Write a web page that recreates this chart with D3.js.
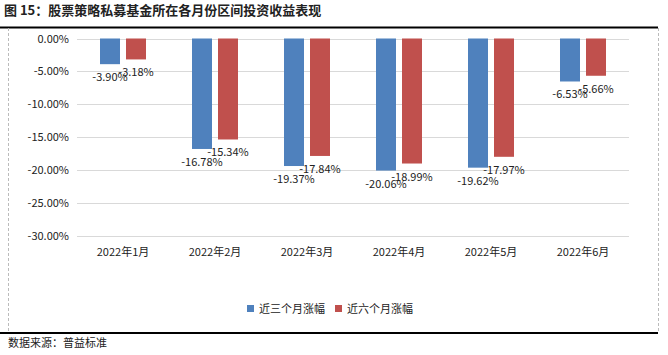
<!DOCTYPE html>
<html><head><meta charset="utf-8">
<script src="https://cdn.jsdelivr.net/npm/d3@7"></script>
<style>body{margin:0;background:#fff}svg{display:block}</style>
</head><body>
<svg id="c" width="668" height="355"></svg>
<script>
const months = ["2022年1月","2022年2月","2022年3月","2022年4月","2022年5月","2022年6月"];
const threeMonth = [-3.90,-16.78,-19.37,-20.06,-19.62,-6.53];
const sixMonth = [-3.18,-15.34,-17.84,-18.99,-17.97,-5.66];
const yTicks = [0,-5,-10,-15,-20,-25,-30];
const seriesNames = ["近三个月涨幅","近六个月涨幅"];
const colors = ["#4F81BD","#C0504D"];

const svg = d3.select("#c");
const font = "'Noto Sans CJK SC', sans-serif";

// title and frame
svg.append("text").attr("x",4).attr("y",15).attr("font-family",font).attr("font-size",13).attr("font-weight","bold").attr("fill","#222").text("图 15：股票策略私募基金所在各月份区间投资收益表现");
svg.append("line").attr("x1",0).attr("x2",658).attr("y1",27.5).attr("y2",27.5).attr("stroke","#000").attr("stroke-width",2);
svg.append("line").attr("x1",0).attr("x2",658).attr("y1",333).attr("y2",333).attr("stroke","#000").attr("stroke-width",2);
svg.append("line").attr("x1",8.5).attr("x2",8.5).attr("y1",28).attr("y2",332).attr("stroke","#bbb").attr("stroke-dasharray","3,2");
svg.append("line").attr("x1",658.5).attr("x2",658.5).attr("y1",28).attr("y2",332).attr("stroke","#bbb").attr("stroke-dasharray","3,2");
svg.append("text").attr("x",8).attr("y",347).attr("font-family",font).attr("font-size",11).attr("fill","#222").text("数据来源：普益标准");

const x = d3.scaleBand().domain(months).range([77,629]);
const y = d3.scaleLinear().domain([-30,0]).range([236,38.5]);

// grid
svg.append("g").selectAll("line").data(yTicks).join("line")
  .attr("x1",77).attr("x2",629).attr("y1",d=>Math.round(y(d))+0.5).attr("y2",d=>Math.round(y(d))+0.5)
  .attr("stroke","#d9d9d9");

const yAxis = d3.axisLeft(y).tickValues(yTicks).tickSize(0).tickPadding(0).tickFormat(d=>d3.format(".2f")(d).replace("−","-")+"%");
svg.append("g").attr("transform","translate(69,0)").call(yAxis)
  .call(g=>g.select(".domain").remove())
  .call(g=>g.selectAll("text").attr("font-family",font).attr("font-size",11).attr("fill","#222"));

const xAxis = d3.axisBottom(x).tickSize(0).tickPadding(8);
svg.append("g").attr("transform","translate(0,240)").call(xAxis)
  .call(g=>g.select(".domain").remove())
  .call(g=>g.selectAll("text").attr("font-family",font).attr("font-size",11).attr("fill","#222"));

const bw = 20, gap = 6;
const data = [threeMonth, sixMonth];
data.forEach((vals,si)=>{
  const off = si===0 ? -gap/2-bw : gap/2;
  const g = svg.append("g");
  g.selectAll("rect").data(vals).join("rect")
    .attr("x",(d,i)=>x(months[i])+x.bandwidth()/2+off)
    .attr("y",y(0)).attr("width",bw).attr("height",d=>y(d)-y(0))
    .attr("fill",colors[si]);
  g.selectAll("text").data(vals).join("text")
    .attr("x",(d,i)=>x(months[i])+x.bandwidth()/2+off+bw/2)
    .attr("y",d=>y(d)+17)
    .attr("text-anchor","middle").attr("font-family",font).attr("font-size",11).attr("fill","#222")
    .text(d=>d3.format(".2f")(d).replace("−","-")+"%");
});

// legend
const leg = svg.append("g").attr("transform","translate(247,305)");
const lx = [0,88];
seriesNames.forEach((n,i)=>{
  leg.append("rect").attr("x",lx[i]).attr("y",0).attr("width",7).attr("height",7).attr("fill",colors[i]);
  leg.append("text").attr("x",lx[i]+12).attr("y",7.5).attr("font-family",font).attr("font-size",11).attr("fill","#222").text(n);
});
</script>
</body></html>
